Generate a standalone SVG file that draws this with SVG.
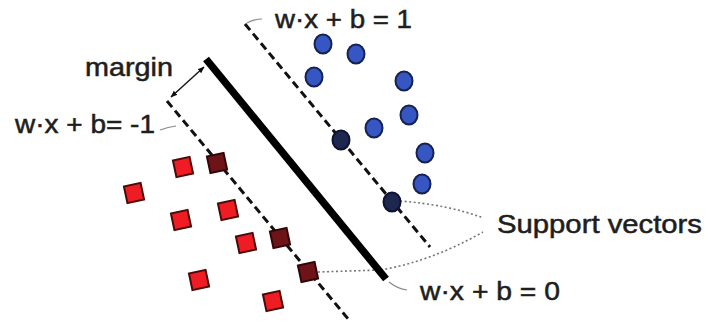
<svg xmlns="http://www.w3.org/2000/svg" width="706" height="327" viewBox="0 0 706 327">
<style>
.t{font-family:"Liberation Sans",Arial,sans-serif;font-size:25px;fill:#1e1e1e;stroke:#1e1e1e;stroke-width:0.5}
.dash{stroke:#111;stroke-width:3;stroke-dasharray:8 4.5;fill:none}
.dot{stroke:#777;stroke-width:1.6;stroke-dasharray:2 2.5;fill:none}
.lead{stroke:#888;stroke-width:1.2;fill:none}
.pos{fill:#3656c4;stroke:#16224f;stroke-width:2}
.psv{fill:#1d2750;stroke:#0e1430;stroke-width:2}
.neg{fill:#f01c24;stroke:#4a0a0a;stroke-width:2}
.nsv{fill:#6e1419;stroke:#300608;stroke-width:2}
</style>
<defs>
<marker id="ah" viewBox="0 0 10 10" refX="9" refY="5" markerWidth="7" markerHeight="7" orient="auto-start-reverse" markerUnits="userSpaceOnUse">
<path d="M0,1 L10,5 L0,9 Z" fill="#111"/>
</marker>
</defs>
<rect width="706" height="327" fill="#fff"/>
<g id="connectors">
<path class="dot" d="M318,272 L380,270 Q430,262 483,232"/>
<path class="dot" d="M400,201 Q450,205 483,218"/>
<line class="dash" x1="245" y1="24" x2="430" y2="247"/>
<line class="dash" x1="167" y1="101" x2="349" y2="320"/>
<line x1="206" y1="59" x2="386" y2="279" stroke="#000" stroke-width="7.5"/>
<line x1="171" y1="97" x2="204" y2="67" stroke="#111" stroke-width="1.4" marker-start="url(#ah)" marker-end="url(#ah)"/>
<path class="lead" d="M160,130 Q168,127 176,126"/>
<path class="lead" d="M247,23 Q254,19 262,19"/>
<path class="lead" d="M389,282 Q398,289 407,290"/>
</g>
<g id="positives">
<ellipse class="pos" cx="323" cy="44" rx="8.5" ry="9.5"/>
<ellipse class="pos" cx="356" cy="54" rx="8.5" ry="9.5"/>
<ellipse class="pos" cx="314" cy="77" rx="8.5" ry="9.5"/>
<ellipse class="pos" cx="404" cy="81" rx="8.5" ry="9.5"/>
<ellipse class="pos" cx="409" cy="115" rx="8.5" ry="9.5"/>
<ellipse class="pos" cx="374" cy="128" rx="8.5" ry="9.5"/>
<ellipse class="pos" cx="425" cy="153" rx="8.5" ry="9.5"/>
<ellipse class="pos" cx="422" cy="184" rx="8.5" ry="9.5"/>
<ellipse class="psv" cx="341" cy="140" rx="8.5" ry="9.5"/>
<ellipse class="psv" cx="392" cy="202" rx="8.5" ry="9.5"/>
</g>
<g id="negatives">
<rect class="neg" x="-8.5" y="-8.5" width="17" height="17" transform="translate(183,167) rotate(-12)"/>
<rect class="neg" x="-8.5" y="-8.5" width="17" height="17" transform="translate(134,193) rotate(-12)"/>
<rect class="neg" x="-8.5" y="-8.5" width="17" height="17" transform="translate(181,220) rotate(-12)"/>
<rect class="neg" x="-8.5" y="-8.5" width="17" height="17" transform="translate(228,210) rotate(-12)"/>
<rect class="neg" x="-8.5" y="-8.5" width="17" height="17" transform="translate(246,243) rotate(-12)"/>
<rect class="neg" x="-8.5" y="-8.5" width="17" height="17" transform="translate(199,280) rotate(-12)"/>
<rect class="neg" x="-8.5" y="-8.5" width="17" height="17" transform="translate(273,301) rotate(-12)"/>
<rect class="nsv" x="-8.5" y="-8.5" width="17" height="17" transform="translate(217,163) rotate(-12)"/>
<rect class="nsv" x="-8.5" y="-8.5" width="17" height="17" transform="translate(280,238) rotate(-12)"/>
<rect class="nsv" x="-8.5" y="-8.5" width="17" height="17" transform="translate(308,272) rotate(-12)"/>
</g>
<g id="labels">
<text class="t" x="85" y="76" textLength="88" lengthAdjust="spacingAndGlyphs">margin</text>
<text class="t" x="15" y="133" textLength="140" lengthAdjust="spacingAndGlyphs">w·x + b= -1</text>
<text class="t" x="275" y="28" textLength="137" lengthAdjust="spacingAndGlyphs">w·x + b = 1</text>
<text class="t" x="497" y="233" textLength="205" lengthAdjust="spacingAndGlyphs">Support vectors</text>
<text class="t" x="420" y="300" textLength="140" lengthAdjust="spacingAndGlyphs">w·x + b = 0</text>
</g>
</svg>
